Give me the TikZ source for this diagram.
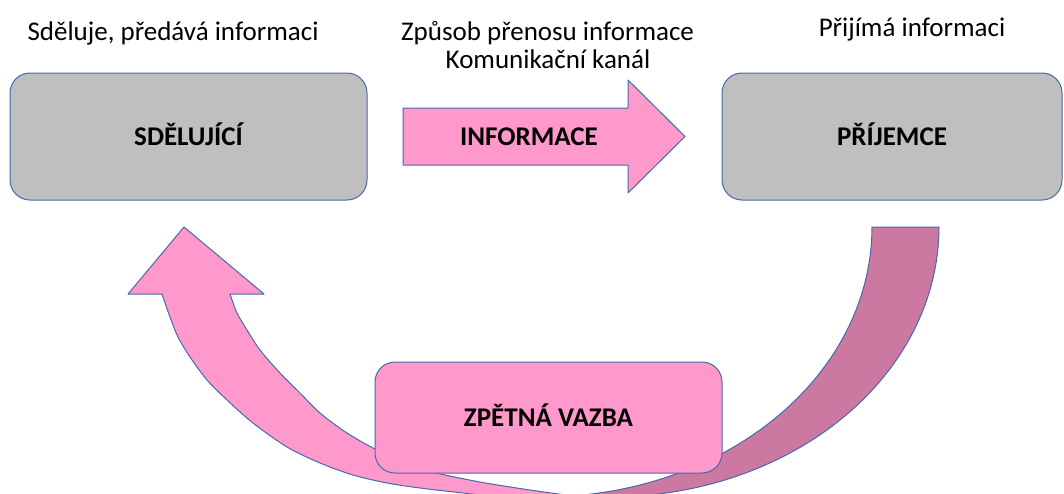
\documentclass[tikz,border=0pt]{standalone}
\usepackage{fontspec}
\setmainfont{Carlito}
\newcommand\plaintextfont{\fontsize{27}{28}\selectfont}
\newcommand\boldtextfont{\fontsize{27}{28}\selectfont\bfseries}
\definecolor{boxgray}{RGB}{191,191,191}
\definecolor{edgeblue}{RGB}{72,104,172}
\definecolor{pinkfill}{RGB}{255,153,204}
\definecolor{mauvefill}{RGB}{204,121,161}
\begin{document}
\begin{tikzpicture}[x=1pt,y=-1pt,
  outline/.style={draw=edgeblue, line width=1pt, line join=round},
  boldtext/.style={font=\boldtextfont, text height=17pt, text depth=0pt},
  graybox/.style={outline, fill=boxgray, rounded corners=20pt,
    minimum height=127pt, inner sep=0pt, boldtext},
  pinkbox/.style={outline, fill=pinkfill, rounded corners=20pt,
    minimum width=347pt, minimum height=111pt, inner sep=0pt, boldtext},
  blockarrow/.style={outline, fill=pinkfill},
  returnarrow/.style={outline, fill=mauvefill},
  caption/.style={anchor=base, inner sep=0pt, font=\plaintextfont},
  arrowtext/.style={inner sep=0pt, boldtext}]
\useasboundingbox (0,0) rectangle (1064,493);
\clip (0,0) rectangle (1064,493);

% feedback arrow, curving from the bottom up to the sender
\path[blockarrow] (128,294) -- (184,227) -- (264,294) -- (230,294)
  -- plot[smooth] coordinates {(230,294) (237,313) (247,330) (260,350) (280,373)
     (300,393) (320,413) (347,433) (377,450) (408,463) (437,473) (480,482)
     (530,490) (580,497) (640,506)}
  -- plot[smooth] coordinates {(640,508) (580,503) (520,499) (463,493) (420,488)
     (387,483) (353,475) (320,463) (287,447) (253,423) (227,400) (207,380)
     (190,357) (178,337) (170,317) (162,294)}
  -- cycle;

% return arrow, leaving the receiver downwards
\path[returnarrow] (872,227) -- (939,227)
  -- plot[domain=0:90, samples=60] ({610+329*cos(\x)},{227+270*sin(\x)})
  -- plot[domain=90:0, samples=60] ({543+329*cos(\x)},{227+270*sin(\x)})
  -- cycle;

% boxes
\node[graybox, minimum width=357pt] (sender) at (188.5,136.5) {SDĚLUJÍCÍ};
\node[graybox, minimum width=340pt] (receiver) at (892,136.5) {PŘÍJEMCE};
\node[pinkbox] (feedback) at (548.5,417.5) {ZPĚTNÁ VAZBA};

% message arrow between the boxes
\path[blockarrow] (403,108) -- (628,108) -- (628,80) -- (685,136.5)
  -- (628,193) -- (628,165) -- (403,165) -- cycle;
\node[arrowtext] (message) at (529,136.5) {INFORMACE};

% captions
\node[caption] (sendercap) at (173,40) {Sděluje, předává informaci};
\node[caption] (channelcap) at (547.5,40) {Způsob přenosu informace};
\node[caption] (channelcapb) at (548,68) {Komunikační kanál};
\node[caption] (receivercap) at (912,36) {Přijímá informaci};
\end{tikzpicture}
\end{document}
